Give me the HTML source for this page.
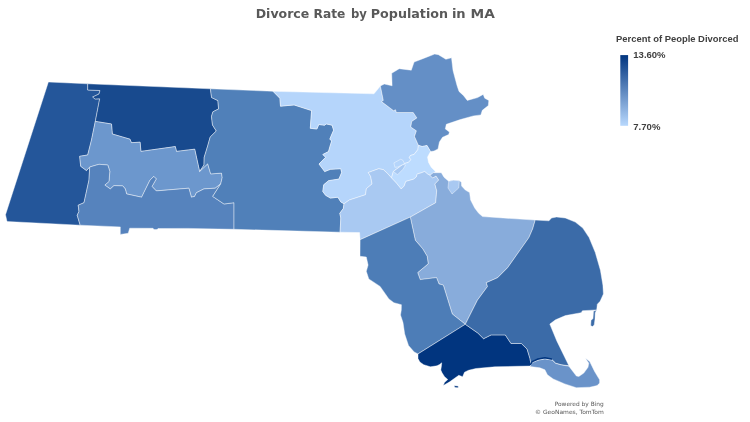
<!DOCTYPE html>
<html lang="en"><head><meta charset="utf-8"><title>Divorce Rate by Population in MA</title>
<style>
html,body{margin:0;padding:0;background:#fff;}
body{width:750px;height:422px;overflow:hidden;position:relative;font-family:"Liberation Sans",sans-serif;}
svg{position:absolute;left:0;top:0;display:block}
.t{font-family:"Liberation Sans",sans-serif}
</style></head><body>
<svg width="750" height="422" viewBox="0 0 750 422">
<defs><linearGradient id="lg" x1="0" y1="0" x2="0" y2="1"><stop offset="0" stop-color="#01357f"/><stop offset="1" stop-color="#b8d8fd"/></linearGradient></defs>
<rect width="750" height="422" fill="#fff"/>
<g stroke="#ffffff" stroke-opacity="0.7" stroke-width="0.6" stroke-linejoin="round">
<polygon fill="#24569a" points="48.4,82 87.7,83.8 87.7,90 100,90.5 99,94 92.7,97 95,99 99.7,98.8 95.3,121.4 91.5,140 87.7,155 79.7,156.3 80.7,166.3 86.5,170.6 89.7,167 89,180 84,202.7 78.2,205.2 79,211.4 77.2,215.2 80.2,225.2 7,221.5 5.5,214.7"/>
<polygon fill="#184a8e" points="87.7,83.8 210.4,88.8 211.6,97.6 217.9,100.6 218.6,108.9 212.9,111.8 211.5,116.4 212.5,125 216.3,131 210.2,137 207.9,145.2 206.3,150.5 204.2,157.3 204,165 199.6,171.5 194.7,149.2 176.5,151.4 175.3,146.6 140.9,151.4 140.1,142.2 131.4,142.7 130,139.2 112.3,134 111.5,124 95.3,121.4 99.7,98.8 95,99 92.7,97 99,94 100,90.5 87.7,90"/>
<polygon fill="#6c97cd" points="95.3,121.4 111.5,124 112.3,134 130,139.2 131.4,142.7 140.1,142.2 140.9,151.4 175.3,146.6 176.5,151.4 194.7,149.2 199.6,171.5 207.7,163.8 210.7,173.9 221.5,173.1 222.2,177.6 220.7,183.9 215.2,188.2 203.9,188.9 196.4,192.7 194.6,196.4 191.4,197.2 188.9,188.2 156.3,190.9 152,186.4 156.3,178.9 153.8,176.4 150,180.1 143.8,192.7 141.6,197.2 126.6,193.9 125.3,188.9 122.8,185.9 114,185.6 110.3,188.9 104.8,185.1 109,181.4 109.8,171.3 107.8,165 99,164.3 89.7,167 86.5,170.6 80.7,166.3 79.7,156.3 87.7,155 91.5,140"/>
<polygon fill="#5683bd" points="89.7,167 99,164.3 107.8,165 109.8,171.3 109,181.4 104.8,185.1 110.3,188.9 114,185.6 122.8,185.9 125.3,188.9 126.6,193.9 141.6,197.2 143.8,192.7 150,180.1 153.8,176.4 156.3,178.9 152,186.4 156.3,190.9 188.9,188.2 191.4,197.2 194.6,196.4 196.4,192.7 203.9,188.9 215.2,188.2 220.7,183.9 212.7,196.4 224,204 234,202.7 234,229.3 188,228.4 158,228.5 157,229.6 154,229.6 153,228.3 129.7,228.2 128.2,233.3 120.3,234.4 120.3,226.9 80.2,225.2 77.2,215.2 79,211.4 78.2,205.2 84,202.7 89,180"/>
<polygon fill="#5080b9" points="210.4,88.8 273,91.3 279.9,98.3 280.5,106.2 294.1,104.9 311.6,110.6 310.3,128.3 316.9,129 318.8,124.5 324.5,125.2 326.4,123.9 332.1,125.2 333.6,130.2 329.8,139.1 331.7,141 330.4,145 328.5,151.6 322.8,154.5 325.6,157.3 319,164 324.7,171.6 330.4,169.3 340.8,168.7 341.7,172.5 338.9,179.1 328.5,180.7 323.7,184.8 322.8,191.5 325.6,195.3 330.4,198.1 337.9,197.2 340.8,201.9 344,203.8 343.3,208.6 339.8,213.3 340.8,218 340.1,232.2 234,229.3 234,202.7 224,204 212.7,196.4 220.7,183.9 222.2,177.6 221.5,173.1 210.7,173.9 207.7,163.8 199.6,171.5 204,165 204.2,157.3 206.3,150.5 207.9,145.2 210.2,137 216.3,131 212.5,125 211.5,116.4 212.9,111.8 218.6,108.9 217.9,100.6 211.6,97.6"/>
<polygon fill="#b5d5fb" points="273,91.3 374,93.8 380.4,86 383.3,100.4 381.5,101.6 393.6,110.7 395.5,109.7 396.4,112.5 413.2,112.5 416.9,117.9 411.7,121.5 410.8,127.1 416.4,130.8 414.5,136.4 418.4,145.3 417.9,149.6 414.1,154.4 410.4,155.5 409.3,157.6 410.9,159.7 408.3,162.4 404.5,163.5 402.9,164.5 393.3,171.5 391.5,177.9 387.5,173.4 383.5,169.7 378.7,168.7 368.3,172.5 370.6,176.3 372.1,183.9 366.4,188.6 365.5,194.7 349.3,200 344,203.8 340.8,201.9 337.9,197.2 330.4,198.1 325.6,195.3 322.8,191.5 323.7,184.8 328.5,180.7 338.9,179.1 341.7,172.5 340.8,168.7 330.4,169.3 324.7,171.6 319,164 325.6,157.3 322.8,154.5 328.5,151.6 330.4,145 331.7,141 329.8,139.1 333.6,130.2 332.1,125.2 326.4,123.9 324.5,125.2 318.8,124.5 316.9,129 310.3,128.3 311.6,110.6 294.1,104.9 280.5,106.2 279.9,98.3"/>
<polygon fill="#648fc6" points="380.4,86 384.3,84 392.1,85.8 391.7,73.3 399.2,68.7 411.3,70.2 414.1,62.1 423.5,58.4 434.7,54.1 438.4,54.7 445.9,59.3 451.5,57.8 453,70.5 457,85.5 459,91.4 463.6,95.7 467.3,100.4 477.6,97.6 483.2,94.4 484.7,98.2 488.8,100.4 488.3,105.6 482.3,110.3 480.8,114.9 473.3,115.9 460.3,119.6 446.3,124.3 445.3,128.9 449.4,132.1 448.7,134.5 442.5,137.3 439.4,142 438,149 434,151 430.5,151.5 427,145.5 422.1,146.5 418.4,145.3 414.5,136.4 416.4,130.8 410.8,127.1 411.7,121.5 416.9,117.9 413.2,112.5 396.4,112.5 395.5,109.7 393.6,110.7 381.5,101.6 383.3,100.4"/>
<polygon fill="#bddcff" points="418.4,145.3 417.9,149.6 414.1,154.4 410.4,155.5 409.3,157.6 410.9,159.7 408.3,162.4 404.5,163.5 402.9,164.5 393.3,171.5 391.5,177.9 396.5,183.2 401.2,189 404.2,186 405.8,181.4 413.5,179.2 416.3,177 417.2,174 421,172.9 424.7,171.5 427.5,174 430,175.3 430.1,175.2 435.5,171.5 431.2,167.2 428.5,162.4 427.5,157.1 430.5,151.5 427,145.5 422.1,146.5"/>
<polygon fill="#a9c9f2" points="344,203.8 349.3,200 365.5,194.7 366.4,188.6 372.1,183.9 370.6,176.3 368.3,172.5 378.7,168.7 383.5,169.7 387.5,173.4 391.5,177.9 396.5,183.2 401.2,189 404.2,186 405.8,181.4 413.5,179.2 416.3,177 417.2,174 421,172.9 424.7,171.5 427.5,174 430,175.3 432.7,178 436,176 438.7,180 434.9,184 436.7,190.7 435.7,202.7 410.3,217.1 360.1,239.7 359.6,232.6 340.1,232.2 340.8,218 339.8,213.3 343.3,208.6"/>
<polygon fill="#88acdb" points="430,175.3 433.3,172.7 441.3,172.7 444,177.3 448.7,181.3 453.3,180.3 459.3,180.7 461.3,182 461.6,186 465.3,190 469.6,192.6 470.6,200 474.7,208 478.7,213.3 482.6,216.6 535.2,220.1 532.7,228.8 528.9,237.6 507.6,267.7 497.6,277.7 486.3,282.7 487.5,286.5 477.4,300.2 465.3,324.3 452.3,314 450.3,307.7 443.3,285.1 439,283.9 436.5,277.6 420.2,279.6 417.7,272.6 428.2,263.8 427.2,256.3 422.7,248.8 415.3,240.2 410.3,217.1 435.7,202.7 436.7,190.7 434.9,184 438.7,180 436,176 432.7,178"/>
<polygon fill="#a9c9f2" points="448.7,181.3 453.3,180.3 459.3,180.7 458.7,188 452,194 448,188"/>
<polygon fill="#a9c9f2" points="393.3,171.5 402.9,164.5 405.6,165.1 402.9,169.3 397.6,174.7"/>
<polygon fill="#b5d5fb" points="393.9,162.9 400.8,159.2 402.9,160.3 404.5,163.5 402.9,164.5 397.7,167 394.9,167.3"/>
<polygon fill="#4d7db7" points="360.1,239.7 410.3,217.1 415.3,240.2 422.7,248.8 427.2,256.3 428.2,263.8 417.7,272.6 420.2,279.6 436.5,277.6 439,283.9 443.3,285.1 450.3,307.7 452.3,314 465.3,324.3 418,353.9 414.2,352 408.5,345.4 404.7,334 403,322.6 400.5,315 401.3,310 401.4,304.7 393.9,302.7 388.9,298.9 380.1,286.4 368.8,278.9 366.3,271.3 368.1,265.1 366.3,257 360,256.3"/>
<polygon fill="#01357f" points="465.3,324.3 477.8,333 483.5,338.7 491.1,334.9 505.3,334.9 511,343.5 521.4,343.5 527.1,349.1 530,358.6 530.7,362.5 530.9,366 515.7,366.3 494.9,366.8 475.9,368.5 468.5,370.3 464.5,372.2 462.6,376.7 458.8,375.3 449.7,381.8 443.3,385.6 444.5,382.5 447.8,379.5 444.6,376.7 442.2,373 440.8,370 441.5,365.5 441.7,362.8 439.5,364.5 437,365.8 430.4,366.8 423.7,364.7 419.9,362 418,358.6 418,353.9"/>
<polygon fill="#01357f" points="454,385.7 458.2,386 458.2,387.7 455,387.5"/>
<polygon fill="#3b6ba8" points="535.2,220.1 549,220.8 551.5,218 556.5,217 565.3,218 575.3,222.1 582.8,228.1 589.1,237.6 595.3,252.6 600.4,270.2 602.9,285.2 603.4,294 600.1,301.3 597.3,304.2 596.7,309.9 582.5,310.7 581.1,312.7 565.4,315.6 555.5,319.8 549.8,324.1 556.9,341.2 568.9,365.7 561.5,364.8 555.7,363.2 552.3,359.9 544.9,358.5 538.2,359.9 532.4,362.3 530.9,366 530.7,362.5 530,358.6 527.1,349.1 521.4,343.5 511,343.5 505.3,334.9 491.1,334.9 483.5,338.7 477.8,333 465.3,324.3 477.4,300.2 487.5,286.5 486.3,282.7 497.6,277.7 507.6,267.7 528.9,237.6 532.7,228.8"/>
<polygon fill="#3b6ba8" points="596.7,309.9 595.2,312.7 595,319 594.2,325 592.4,326.6 590.7,325.6 591,320.5 593,318.5 593.5,311.3"/>
<polygon fill="#6a93c9" points="530,366.5 532.4,362.6 538.2,360.3 544.9,358.9 552.3,360.2 555.7,363.4 561.5,365 568.9,366.2 576.4,376.1 578.9,376.4 583.8,373.1 588,367.3 588.8,363.2 585.5,358.2 589.7,361.5 594.6,371.5 599.6,379.8 599.6,383.1 597.1,385.6 589.7,387.2 576.4,387.7 564.8,383.9 553.2,378.9 547.4,374.8 544.9,369.8 539.9,367.8"/>
</g>
<polyline fill="none" stroke="#01357f" stroke-width="1.5" stroke-linecap="round" stroke-linejoin="round" points="530.6,364.3 532.2,361.6 538,359 544.9,357.8 551.4,359"/>
<rect x="620.3" y="55.1" width="7.8" height="70.7" fill="url(#lg)"/>
<text y="17.9" font-family="'DejaVu Sans','Liberation Sans',sans-serif" font-size="12.6" font-weight="bold" fill="#595959"><tspan x="255.7" textLength="53.6" lengthAdjust="spacingAndGlyphs">Divorce</tspan> <tspan x="313.6" textLength="31.8" lengthAdjust="spacingAndGlyphs">Rate</tspan> <tspan x="351.0" textLength="15.9" lengthAdjust="spacingAndGlyphs">by</tspan> <tspan x="370.8" textLength="77.2" lengthAdjust="spacingAndGlyphs">Population</tspan> <tspan x="451.9" textLength="13.8" lengthAdjust="spacingAndGlyphs">in</tspan> <tspan x="470.5" textLength="24.3" lengthAdjust="spacingAndGlyphs">MA</tspan></text>
<text class="t" x="616" y="42.4" font-size="9.2" font-weight="bold" fill="#404040" textLength="122.4" lengthAdjust="spacingAndGlyphs">Percent of People Divorced</text>
<text class="t" x="633.3" y="57.5" font-size="8.8" font-weight="bold" fill="#404040" textLength="32.3" lengthAdjust="spacingAndGlyphs">13.60%</text>
<text class="t" x="633.3" y="129.9" font-size="8.8" font-weight="bold" fill="#404040" textLength="27.1" lengthAdjust="spacingAndGlyphs">7.70%</text>
<text x="603.8" y="406.1" text-anchor="end" font-family="'DejaVu Sans','Liberation Sans',sans-serif" font-size="5.8" fill="#595959" textLength="49.1" lengthAdjust="spacingAndGlyphs">Powered by Bing</text>
<text x="603.8" y="414.3" text-anchor="end" font-family="'DejaVu Sans','Liberation Sans',sans-serif" font-size="5.8" fill="#595959" textLength="68.7" lengthAdjust="spacingAndGlyphs">© GeoNames, TomTom</text>
</svg>
</body></html>
